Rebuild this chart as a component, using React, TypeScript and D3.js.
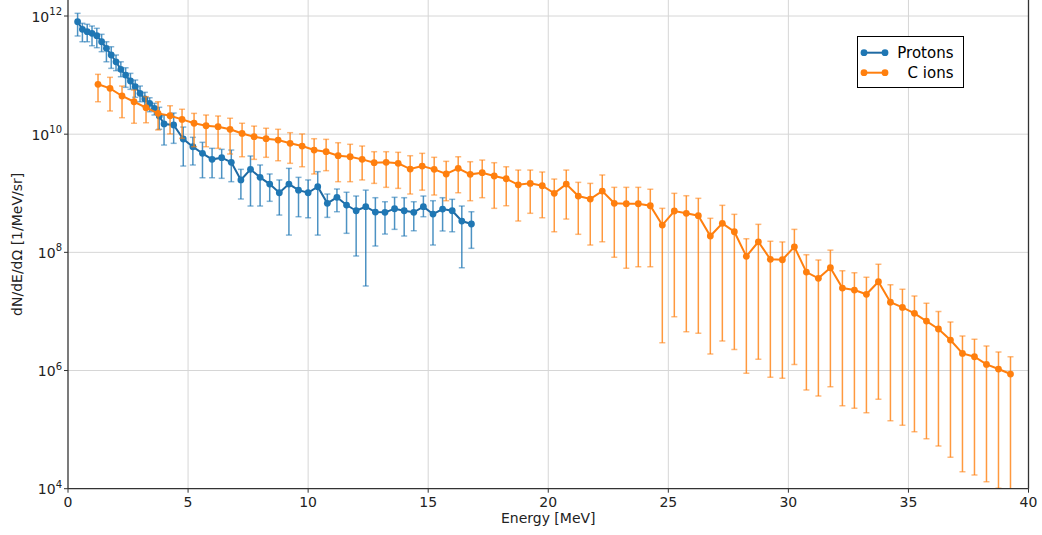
import React from "react";
import * as d3 from "d3";

// ---------------- data ----------------
const protonEnergy = [
  0.4, 0.6, 0.8, 1.0, 1.2, 1.4, 1.6, 1.8, 2.0, 2.2, 2.4, 2.6, 2.8, 3.0, 3.2, 3.4, 3.6, 3.8, 4.0,
  4.4, 4.8, 5.2, 5.6, 6.0, 6.4, 6.8, 7.2, 7.6, 8.0, 8.4, 8.8, 9.2, 9.6, 10.0, 10.4, 10.8, 11.2,
  11.6, 12.0, 12.4, 12.8, 13.2, 13.6, 14.0, 14.4, 14.8, 15.2, 15.6, 16.0, 16.4, 16.8,
];
const protonFlux = [
  8.0e11, 5.96e11, 5.42e11, 5.1e11, 4.64e11, 3.67e11, 2.84e11, 2.19e11, 1.68e11, 1.25e11, 1.0e11,
  7.94e10, 6.36e10, 4.92e10, 3.94e10, 3.33e10, 2.74e10, 2.03e10, 1.49e10,
  1.43e10, 8.28e9, 6.13e9, 4.74e9, 3.75e9, 4.0e9, 3.34e9, 1.68e9, 2.54e9, 1.86e9, 1.43e9, 1.02e9,
  1.43e9, 1.13e9, 1.02e9, 1.29e9, 6.76e8, 8.54e8, 6.32e8, 5.06e8, 5.92e8, 4.81e8, 4.76e8, 5.47e8,
  5.06e8, 4.76e8, 5.92e8, 4.45e8, 5.41e8, 5.06e8, 3.39e8, 3.02e8,
];
const protonHigh = [
  1.11e12, 7.52e11, 7.24e11, 6.77e11, 6.19e11, 4.9e11, 3.67e11, 3.02e11, 2.19e11, 1.68e11, 1.33e11,
  1.07e11, 8.25e10, 6.53e10, 5.11e10, 4.14e10, 3.33e10, 2.85e10, 2.11e10,
  2.28e10, 1.32e10, 8.85e9, 7.28e9, 5.76e9, 5.54e9, 5.39e9, 2.54e9, 4.27e9, 3.01e9, 2.12e9, 1.68e9,
  2.64e9, 1.86e9, 1.68e9, 2.32e9, 9.71e8, 1.18e9, 1.04e9, 8.98e8, 1.13e9, 8.41e8, 7.19e8, 8.54e8,
  8.41e8, 7.19e8, 8.98e8, 7.48e8, 8.41e8, 7.9e8, 6.08e8, 4.87e8,
];
const protonLow = [
  4.59e11, 3.67e11, 3.67e11, 3.14e11, 2.91e11, 2.49e11, 1.68e11, 1.3e11, 1.19e11, 9.39e10, 6.21e10,
  5.74e10, 4.21e10, 3.54e10, 2.92e10, 2.4e10, 2.11e10, 1.21e10, 6.55e9,
  7.0e9, 2.89e9, 3.01e9, 1.83e9, 1.83e9, 1.79e9, 1.57e9, 7.99e8, 6.08e8, 6.08e8, 7.31e8, 4.28e8,
  1.96e8, 4.01e8, 3.85e8, 1.96e8, 3.91e8, 4.87e8, 2.1e8, 8.66e7, 2.69e7, 1.28e8, 2.04e8, 2.45e8,
  1.89e8, 2.32e8, 4.01e8, 1.33e8, 2.3e8, 2.23e8, 5.49e7, 1.17e8,
];

const carbonEnergy = [
  1.25, 1.75, 2.25, 2.75, 3.25, 3.75, 4.25, 4.75, 5.25, 5.75, 6.25, 6.75, 7.25, 7.75, 8.25, 8.75,
  9.25, 9.75, 10.25, 10.75, 11.25, 11.75, 12.25, 12.75, 13.25, 13.75, 14.25, 14.75, 15.25, 15.75,
  16.25, 16.75, 17.25, 17.75, 18.25, 18.75, 19.25, 19.75, 20.25, 20.75, 21.25, 21.75, 22.25, 22.75,
  23.25, 23.75, 24.25, 24.75, 25.25, 25.75, 26.25, 26.75, 27.25, 27.75, 28.25, 28.75, 29.25, 29.75,
  30.25, 30.75, 31.25, 31.75, 32.25, 32.75, 33.25, 33.75, 34.25, 34.75, 35.25, 35.75, 36.25, 36.75,
  37.25, 37.75, 38.25, 38.75, 39.25,
];
const carbonFlux = [
  6.98e10, 5.97e10, 4.43e10, 3.54e10, 2.81e10, 2.25e10, 2.05e10, 1.78e10, 1.53e10, 1.39e10, 1.34e10,
  1.21e10, 1.03e10, 9.06e9, 8.38e9, 7.96e9, 7.0e9, 6.3e9, 5.39e9, 5.05e9, 4.32e9, 4.15e9, 3.75e9,
  3.29e9, 3.34e9, 3.21e9, 2.57e9, 2.89e9, 2.54e9, 2.12e9, 2.64e9, 2.09e9, 2.23e9, 1.96e9, 1.76e9,
  1.39e9, 1.47e9, 1.34e9, 9.98e8, 1.43e9, 8.98e8, 7.99e8, 1.09e9, 6.76e8, 6.65e8, 6.65e8, 6.15e8,
  2.9e8, 5.01e8, 4.58e8, 4.17e8, 1.89e8, 3.1e8, 2.23e8, 8.56e7, 1.51e8, 7.62e7, 7.5e7, 1.24e8,
  4.64e7, 3.63e7, 5.49e7, 2.49e7, 2.3e7, 1.95e7, 3.18e7, 1.43e7, 1.17e7, 9.29e6, 6.88e6, 5.04e6,
  3.28e6, 1.95e6, 1.71e6, 1.27e6, 1.06e6, 8.72e5,
];
const carbonHigh = [
  1.03e11, 9.17e10, 6.53e10, 5.59e10, 4.31e10, 3.54e10, 3.03e10, 2.64e10, 2.25e10, 2.11e10, 2.03e10,
  1.86e10, 1.53e10, 1.37e10, 1.26e10, 1.21e10, 1.06e10, 1.01e10, 8.38e9, 8.18e9, 7.17e9, 6.74e9,
  6.3e9, 5.05e9, 5.05e9, 4.93e9, 4.32e9, 4.74e9, 4.06e9, 3.47e9, 4.15e9, 3.42e9, 3.65e9, 3.29e9,
  2.81e9, 2.47e9, 2.47e9, 2.29e9, 1.74e9, 2.47e9, 1.53e9, 1.47e9, 2.04e9, 1.26e9, 1.26e9, 1.26e9,
  1.17e9, 5.56e8, 9.98e8, 9.09e8, 8.21e8, 3.77e8, 6.25e8, 4.4e8, 1.7e8, 2.98e8, 1.54e8, 1.5e8,
  2.45e8, 9.12e7, 7.41e7, 1.09e8, 4.89e7, 4.52e7, 3.78e7, 6.27e7, 2.83e7, 2.37e7, 1.82e7, 1.37e7,
  1.0e7, 6.62e6, 3.83e6, 3.37e6, 2.6e6, 2.06e6, 1.71e6,
];
const carbonLow = [
  3.54e10, 2.47e10, 1.9e10, 1.53e10, 1.56e10, 1.18e10, 1.01e10, 8.51e9, 6.13e9, 6.13e9, 5.76e9,
  4.62e9, 4.15e9, 3.75e9, 4.06e9, 3.55e9, 3.21e9, 2.81e9, 2.12e9, 2.41e9, 1.57e9, 1.57e9, 1.68e9,
  1.47e9, 1.26e9, 1.21e9, 9.71e8, 1.13e9, 9.34e8, 7.48e8, 1.02e9, 7.48e8, 8.41e8, 5.56e8, 6.15e8,
  3.39e8, 4.58e8, 3.85e8, 2.23e8, 3.66e8, 2.02e8, 1.33e8, 1.51e8, 8.24e7, 5.36e7, 5.71e7, 5.71e7,
  2.95e6, 8.14e6, 4.53e6, 4.26e6, 1.9e6, 3.16e6, 2.28e6, 8.96e5, 1.55e6, 7.67e5, 7.37e5, 1.27e6,
  4.67e5, 3.7e5, 5.31e5, 2.53e5, 2.29e5, 1.93e5, 3.25e5, 1.41e5, 1.19e5, 9.2e4, 7.0e4, 5.27e4,
  3.39e4, 1.94e4, 1.7e4, 1.31e4, 1.02e4, 0,
];

const xTicks = [0, 5, 10, 15, 20, 25, 30, 35, 40];
const yTickExponents = [4, 6, 8, 10, 12];
const seriesNames = ["Protons", "C ions"];

// ---------------- layout ----------------
const W = 1042;
const H = 535;
const PL = 68;
const PR = 1028.5;
const PT = 0;
const PB = 488.7;
const FONT = "'DejaVu Sans', sans-serif";

const x = d3.scaleLinear().domain([0, 40]).range([PL, PR]);
const y = d3.scaleLog().domain([1e4, 1.866e12]).range([PB, PT]);

type Series = {
  name: string;
  xs: number[];
  ys: number[];
  lo: number[];
  hi: number[];
  color: string;
  lineColor: string;
};

const series: Series[] = [
  {
    name: seriesNames[0],
    xs: protonEnergy,
    ys: protonFlux,
    lo: protonLow,
    hi: protonHigh,
    color: "#1f77b4",
    lineColor: "#1f6aa3",
  },
  {
    name: seriesNames[1],
    xs: carbonEnergy,
    ys: carbonFlux,
    lo: carbonLow,
    hi: carbonHigh,
    color: "#ff7f0e",
    lineColor: "#ff7f0e",
  },
];

const yPix = (v: number) => (v > 0 ? y(v) : PB + 20);

function SeriesMarks({ s }: { s: Series }) {
  const line = d3
    .line<number>()
    .x((_, i) => x(s.xs[i]))
    .y((v) => y(v));
  return (
    <g>
      {s.xs.map((e, i) => {
        const cx = x(e);
        const yh = yPix(s.hi[i]);
        const yl = yPix(s.lo[i]);
        return (
          <g key={i}>
            <line x1={cx} x2={cx} y1={yh} y2={yl} stroke={s.color} strokeWidth={1.5} strokeOpacity={0.8} />
            <line x1={cx - 3} x2={cx + 3} y1={yh} y2={yh} stroke={s.color} strokeWidth={1.5} strokeOpacity={0.55} />
            {s.lo[i] > 0 && (
              <line x1={cx - 3} x2={cx + 3} y1={yl} y2={yl} stroke={s.color} strokeWidth={1.5} strokeOpacity={0.55} />
            )}
          </g>
        );
      })}
      <path d={line(s.ys) || ""} fill="none" stroke={s.lineColor} strokeWidth={2} />
      {s.xs.map((e, i) => (
        <circle key={i} cx={x(e)} cy={y(s.ys[i])} r={3.4} fill={s.color} />
      ))}
    </g>
  );
}

export default function App() {
  const legendX = 857.5;
  const legendY = 36.5;
  return (
    <div style={{ position: "absolute", left: 0, top: 0 }}>
      <svg width={W} height={H} viewBox={`0 0 ${W} ${H}`} style={{ display: "block", background: "#fff" }}>
        <defs>
          <clipPath id="plotClip">
            <rect x={PL} y={PT - 5} width={PR - PL} height={PB - PT + 5} />
          </clipPath>
        </defs>
        <rect x={0} y={0} width={W} height={H} fill="#fff" />
        {/* grid */}
        <g stroke="#d6d6d6" strokeWidth={1}>
          {xTicks
            .filter((t) => t > 0 && t < 40)
            .map((t) => (
              <line key={t} x1={x(t)} x2={x(t)} y1={PT} y2={PB} />
            ))}
          {yTickExponents
            .filter((e) => e > 4)
            .map((e) => (
              <line key={e} x1={PL} x2={PR} y1={y(Math.pow(10, e))} y2={y(Math.pow(10, e))} />
            ))}
        </g>
        {/* data */}
        <g clipPath="url(#plotClip)">
          {series.map((s) => (
            <SeriesMarks key={s.name} s={s} />
          ))}
        </g>
        {/* spines */}
        <g stroke="#333" strokeWidth={1.3} fill="none">
          <line x1={PL} x2={PL} y1={PT - 2} y2={PB} />
          <line x1={PR} x2={PR} y1={PT - 2} y2={PB} />
          <line x1={PL} x2={PR} y1={PB} y2={PB} />
        </g>
        {/* x ticks */}
        <g fontFamily={FONT} fontSize={14} fill="#222">
          {xTicks.map((t) => (
            <g key={t}>
              <line x1={x(t)} x2={x(t)} y1={PB} y2={PB + 4} stroke="#333" strokeWidth={1} />
              <text x={x(t)} y={PB + 18.5} textAnchor="middle">
                {t}
              </text>
            </g>
          ))}
        </g>
        {/* y ticks */}
        <g fontFamily={FONT} fill="#222">
          {yTickExponents.map((e) => {
            const ty = y(Math.pow(10, e));
            return (
              <g key={e}>
                <line x1={PL - 4} x2={PL} y1={ty} y2={ty} stroke="#333" strokeWidth={1} />
                <text x={PL - 6} y={ty + 5.5} textAnchor="end" fontSize={14}>
                  <tspan>10</tspan>
                  <tspan dy={-6.5} fontSize={10}>
                    {e}
                  </tspan>
                </text>
              </g>
            );
          })}
        </g>
        {/* axis labels */}
        <text x={(PL + PR) / 2} y={523} textAnchor="middle" fontFamily={FONT} fontSize={14} fill="#222">
          Energy [MeV]
        </text>
        <text
          transform={`translate(22, ${(PT + PB) / 2}) rotate(-90)`}
          textAnchor="middle"
          fontFamily={FONT}
          fontSize={14}
          fill="#222"
        >
          dN/dE/dΩ [1/MeV/sr]
        </text>
        {/* legend */}
        <g>
          <rect x={legendX} y={legendY} width={106} height={51} fill="#fff" stroke="#000" strokeWidth={1} />
          {series.map((s, i) => {
            const ly = 52.7 + i * 20;
            return (
              <g key={s.name}>
                <line x1={864} x2={885} y1={ly} y2={ly} stroke={s.lineColor} strokeWidth={2} />
                <circle cx={864} cy={ly} r={3.4} fill={s.color} />
                <circle cx={885} cy={ly} r={3.4} fill={s.color} />
                <text x={953.5} y={ly + 5.5} textAnchor="end" fontFamily={FONT} fontSize={15} fill="#000">
                  {s.name}
                </text>
              </g>
            );
          })}
        </g>
      </svg>
    </div>
  );
}
